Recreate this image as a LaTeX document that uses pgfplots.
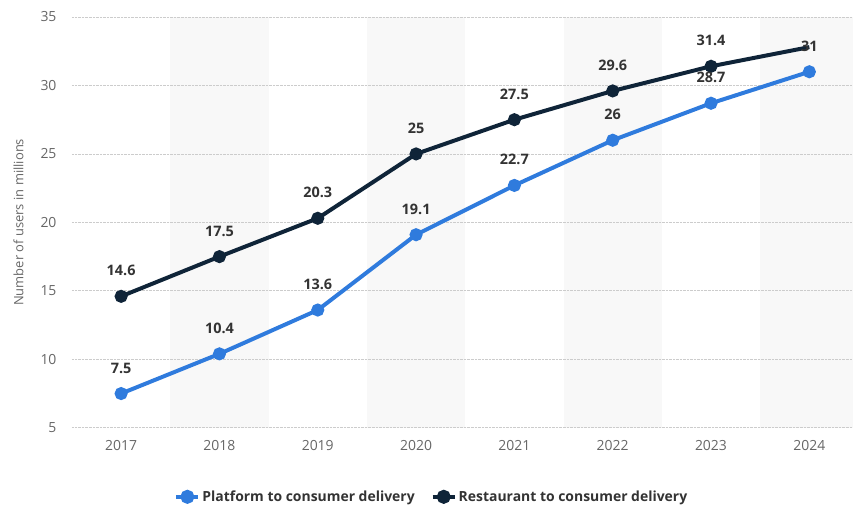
\documentclass[border=0pt]{standalone}
\usepackage{fontspec}
\setmainfont{Open Sans}
\usepackage{pgfplots}
\pgfplotsset{compat=1.18}
\definecolor{plat}{HTML}{2F7BDD}
\definecolor{rest}{HTML}{0F2438}
\definecolor{band}{HTML}{F8F8F8}
\definecolor{gridc}{HTML}{CCCCCC}
\definecolor{tickc}{HTML}{666666}
\definecolor{labc}{HTML}{333333}
\begin{document}
\begin{tikzpicture}[x=1bp,y=1bp]
\begin{axis}[
  set layers=standard,
  scale only axis, width=781bp, height=411bp,
  anchor=south west, at={(0,0)},
  xmin=2016.5, xmax=2024.44, ymin=5, ymax=35,
  axis line style={draw=none},
  xtick={2017,...,2024}, ytick={5,10,...,35},
  xticklabels={2017,2018,2019,2020,2021,2022,2023,2024},
  major tick length=0pt,
  ymajorgrids, grid style={gridc, densely dotted, line width=0.8pt},
  /pgf/number format/assume math mode=true,
  ticklabel style={font=\fontsize{14}{16}\selectfont, text=tickc},
  xticklabel style={yshift=-9bp},
  yticklabel style={xshift=-12bp},
  ylabel={Number of users in millions},
  ylabel style={font=\fontsize{13}{15}\selectfont, text=tickc, at={(axis description cs:0,0.5)}, yshift=45bp},
  clip=false,
  reverse legend,
  legend style={draw=none, fill=none, at={(0.461,-0.168)}, anchor=center, legend columns=2,
    font=\bfseries\fontsize{14}{16}\selectfont, text=labc,
    /tikz/every even column/.append style={column sep=14bp}},
  legend image code/.code={\draw[#1, line width=4pt] (0bp,0bp) -- (22bp,0bp); \fill[#1] (11bp,0bp) circle (5bp);},
  nodes near coords,
  point meta=explicit symbolic,
  every node near coord/.append style={font=\bfseries\fontsize{14.5}{16}\selectfont, text=labc, yshift=15bp},
]
\begin{pgfonlayer}{axis background}
\fill[band] (axis cs:2017.5,5) rectangle (axis cs:2018.5,35);
\fill[band] (axis cs:2019.5,5) rectangle (axis cs:2020.5,35);
\fill[band] (axis cs:2021.5,5) rectangle (axis cs:2022.5,35);
\fill[band] (axis cs:2023.5,5) rectangle (axis cs:2024.44,35);
\end{pgfonlayer}
\addplot[rest, line width=4pt, mark=*, mark size=4.5pt, mark options={solid}, mark indices={1,...,7}] table[meta=lab] {
x y lab
2017 14.6 14.6
2018 17.5 17.5
2019 20.3 20.3
2020 25 25
2021 27.5 27.5
2022 29.6 29.6
2023 31.4 31.4
2024 32.8 {}
};
\addlegendentry{Restaurant to consumer delivery}
\addplot[plat, line width=4pt, mark=*, mark size=4.5pt, mark options={solid}] table[meta=lab] {
x y lab
2017 7.5 7.5
2018 10.4 10.4
2019 13.6 13.6
2020 19.1 19.1
2021 22.7 22.7
2022 26 26
2023 28.7 28.7
2024 31 31
};
\addlegendentry{Platform to consumer delivery}
\end{axis}
\useasboundingbox (-72bp,-80bp) rectangle (781bp,428bp);
\end{tikzpicture}
\end{document}
